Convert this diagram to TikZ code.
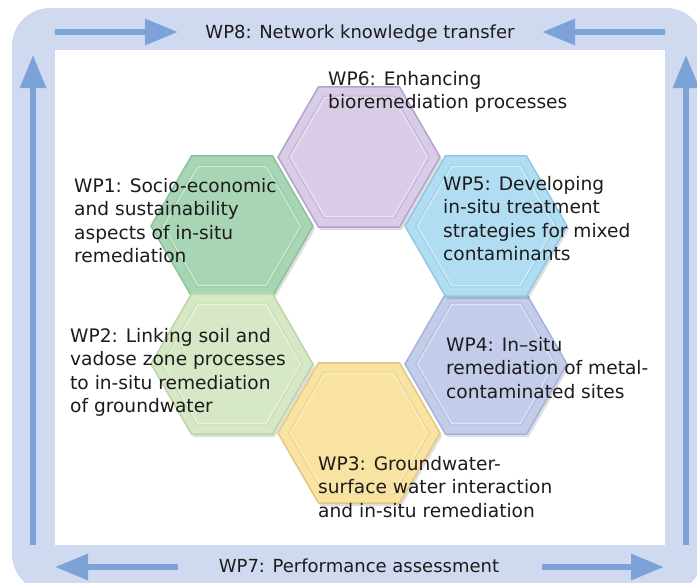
\documentclass[tikz,border=0pt]{standalone}
\usepackage{fontspec}
\setmainfont{DejaVu Sans}
\usetikzlibrary{shapes.geometric,arrows.meta}
\definecolor{framebg}{HTML}{CFDAF1}
\definecolor{arrowblue}{HTML}{7DA2D7}
\definecolor{txt}{HTML}{1E1B1C}
\definecolor{fsix}{HTML}{D9CCE6}\definecolor{esix}{HTML}{B5A2CE}
\definecolor{fone}{HTML}{A8D6B4}\definecolor{eone}{HTML}{8CC29C}
\definecolor{ftwo}{HTML}{D7E8C6}\definecolor{etwo}{HTML}{BCD6A6}
\definecolor{fthree}{HTML}{F8E3A2}\definecolor{ethree}{HTML}{E3C97E}
\definecolor{ffour}{HTML}{C3CDEA}\definecolor{efour}{HTML}{A5B3DC}
\definecolor{ffive}{HTML}{B0DDF2}\definecolor{efive}{HTML}{8FC8E4}
\tikzset{
  hexbase/.style={regular polygon, regular polygon sides=6, minimum size=162pt, inner sep=0pt},
  hexshadow/.style={hexbase, fill=black, opacity=0.13},
  hexouter/.style 2 args={hexbase, fill=#1, draw=#2, line width=1.5pt},
  hexinnerdark/.style={hexbase, minimum size=141pt, draw=#1, line width=0.8pt, opacity=0.6},
  hexinnerlight/.style={hexbase, minimum size=137pt, draw=white, line width=1pt, opacity=0.45},
  wptext/.style={anchor=north west, inner sep=0pt, align=left, text=txt, font={\fontsize{18.6}{23.4}\selectfont}},
  titletext/.style={anchor=base, inner sep=0pt, text=txt, font={\fontsize{18}{22}\selectfont}},
  flowarrow/.style={draw=arrowblue, line width=6pt, -{Triangle[length=33pt,width=25pt]}}
}
\newcommand\hexcell[6]{%
  \node[hexshadow, xshift=2pt, yshift=-3pt] at (#2,#3) {};
  \node[hexouter={#4}{#5}] (#1) at (#2,#3) {};
  \node[hexinnerdark=#5] at (#2,#3) {};
  \node[hexinnerlight] at (#2,#3) {};
}
\begin{document}
\begin{tikzpicture}[x=1pt,y=-1pt]
\useasboundingbox (0,0) rectangle (697,582);
\fill[framebg, rounded corners=38pt] (12,8) rectangle (704,592);
\fill[white] (55,50) rectangle (665,545);
% arrows
\coordinate (tla) at (55,32); \coordinate (tlb) at (178,32);
\coordinate (tra) at (665,32); \coordinate (trb) at (542,32);
\coordinate (bla) at (178,567); \coordinate (blb) at (55,567);
\coordinate (bra) at (542,567); \coordinate (brb) at (664,567);
\coordinate (la) at (33,545); \coordinate (lb) at (33,55);
\coordinate (ra) at (686,545); \coordinate (rb) at (686,55);
\draw[flowarrow] (tla) -- (tlb);
\draw[flowarrow] (tra) -- (trb);
\draw[flowarrow] (bla) -- (blb);
\draw[flowarrow] (bra) -- (brb);
\draw[flowarrow] (la) -- (lb);
\draw[flowarrow] (ra) -- (rb);
% hexagons
\hexcell{hone}{232}{226}{fone}{eone}{}
\hexcell{htwo}{232}{364}{ftwo}{etwo}{}
\hexcell{hthree}{359}{433}{fthree}{ethree}{}
\hexcell{hfour}{486}{364}{ffour}{efour}{}
\hexcell{hfive}{486}{226}{ffive}{efive}{}
\hexcell{hsix}{359}{157}{fsix}{esix}{}
% texts
\node[titletext] (weight) at (360,38) {WP8: Network knowledge transfer};
\node[titletext] (wseven) at (359,572) {WP7: Performance assessment};
\node[wptext] (tsix) at (328,71) {WP6: Enhancing\\bioremediation processes};
\node[wptext] (tone) at (74,178) {WP1: Socio-economic\\and sustainability\\aspects of in-situ\\remediation};
\node[wptext] (ttwo) at (70,328) {WP2: Linking soil and\\vadose zone processes\\to in-situ remediation\\of groundwater};
\node[wptext] (tfive) at (443,176) {WP5: Developing\\in-situ treatment\\strategies for mixed\\contaminants};
\node[wptext] (tfour) at (446,337) {WP4: In–situ\\remediation of metal-\\contaminated sites};
\node[wptext] (tthree) at (318,456) {WP3: Groundwater-\\surface water interaction\\and in-situ remediation};
\end{tikzpicture}
\end{document}
